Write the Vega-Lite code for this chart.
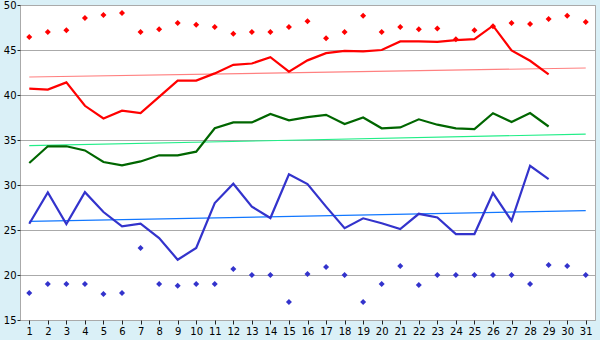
{
  "$schema": "https://vega.github.io/schema/vega-lite/v6.json",
  "width": 575,
  "height": 315,
  "autosize": {"type": "none"},
  "padding": {"left": 20, "top": 5, "right": 5, "bottom": 20},
  "background": "#daf0f7",
  "config": {
    "view": {"fill": "white", "stroke": "#aaaaaa", "strokeWidth": 1},
    "axis": {"labelFont": "DejaVu Sans", "labelFontSize": 10, "labelColor": "black", "tickColor": "#222222", "domainColor": "#aaaaaa", "title": null}
  },
  "datasets": {
    "lines": [
      {"day":1,"value":40.7,"series":"red"},{"day":2,"value":40.6,"series":"red"},{"day":3,"value":41.4,"series":"red"},{"day":4,"value":38.8,"series":"red"},{"day":5,"value":37.4,"series":"red"},{"day":6,"value":38.25,"series":"red"},{"day":7,"value":38.0,"series":"red"},{"day":8,"value":39.8,"series":"red"},{"day":9,"value":41.6,"series":"red"},{"day":10,"value":41.6,"series":"red"},{"day":11,"value":42.4,"series":"red"},{"day":12,"value":43.35,"series":"red"},{"day":13,"value":43.5,"series":"red"},{"day":14,"value":44.2,"series":"red"},{"day":15,"value":42.6,"series":"red"},{"day":16,"value":43.85,"series":"red"},{"day":17,"value":44.65,"series":"red"},{"day":18,"value":44.9,"series":"red"},{"day":19,"value":44.85,"series":"red"},{"day":20,"value":45.0,"series":"red"},{"day":21,"value":45.95,"series":"red"},{"day":22,"value":45.95,"series":"red"},{"day":23,"value":45.9,"series":"red"},{"day":24,"value":46.1,"series":"red"},{"day":25,"value":46.2,"series":"red"},{"day":26,"value":47.7,"series":"red"},{"day":27,"value":44.95,"series":"red"},{"day":28,"value":43.8,"series":"red"},{"day":29,"value":42.3,"series":"red"},
      {"day":1,"value":32.44,"series":"green"},{"day":2,"value":34.3,"series":"green"},{"day":3,"value":34.3,"series":"green"},{"day":4,"value":33.84,"series":"green"},{"day":5,"value":32.55,"series":"green"},{"day":6,"value":32.18,"series":"green"},{"day":7,"value":32.62,"series":"green"},{"day":8,"value":33.3,"series":"green"},{"day":9,"value":33.3,"series":"green"},{"day":10,"value":33.7,"series":"green"},{"day":11,"value":36.3,"series":"green"},{"day":12,"value":36.95,"series":"green"},{"day":13,"value":36.95,"series":"green"},{"day":14,"value":37.9,"series":"green"},{"day":15,"value":37.18,"series":"green"},{"day":16,"value":37.55,"series":"green"},{"day":17,"value":37.8,"series":"green"},{"day":18,"value":36.78,"series":"green"},{"day":19,"value":37.5,"series":"green"},{"day":20,"value":36.3,"series":"green"},{"day":21,"value":36.4,"series":"green"},{"day":22,"value":37.3,"series":"green"},{"day":23,"value":36.7,"series":"green"},{"day":24,"value":36.3,"series":"green"},{"day":25,"value":36.2,"series":"green"},{"day":26,"value":37.97,"series":"green"},{"day":27,"value":37.0,"series":"green"},{"day":28,"value":38.0,"series":"green"},{"day":29,"value":36.5,"series":"green"},
      {"day":1,"value":25.7,"series":"blue"},{"day":2,"value":29.18,"series":"blue"},{"day":3,"value":25.67,"series":"blue"},{"day":4,"value":29.2,"series":"blue"},{"day":5,"value":27.0,"series":"blue"},{"day":6,"value":25.4,"series":"blue"},{"day":7,"value":25.7,"series":"blue"},{"day":8,"value":24.1,"series":"blue"},{"day":9,"value":21.7,"series":"blue"},{"day":10,"value":23.0,"series":"blue"},{"day":11,"value":28.0,"series":"blue"},{"day":12,"value":30.14,"series":"blue"},{"day":13,"value":27.6,"series":"blue"},{"day":14,"value":26.33,"series":"blue"},{"day":15,"value":31.2,"series":"blue"},{"day":16,"value":30.1,"series":"blue"},{"day":17,"value":27.6,"series":"blue"},{"day":18,"value":25.2,"series":"blue"},{"day":19,"value":26.3,"series":"blue"},{"day":20,"value":25.75,"series":"blue"},{"day":21,"value":25.1,"series":"blue"},{"day":22,"value":26.8,"series":"blue"},{"day":23,"value":26.4,"series":"blue"},{"day":24,"value":24.55,"series":"blue"},{"day":25,"value":24.55,"series":"blue"},{"day":26,"value":29.1,"series":"blue"},{"day":27,"value":26.03,"series":"blue"},{"day":28,"value":32.14,"series":"blue"},{"day":29,"value":30.66,"series":"blue"}
    ],
    "trend": [
      {"day":1,"value":42.0,"series":"red trend"},{"day":31,"value":43.0,"series":"red trend"},
      {"day":1,"value":34.37,"series":"green trend"},{"day":31,"value":35.65,"series":"green trend"},
      {"day":1,"value":25.95,"series":"blue trend"},{"day":31,"value":27.15,"series":"blue trend"}
    ],
    "points": [
      {"day":1,"value":46.44,"series":"red points"},{"day":2,"value":47.0,"series":"red points"},{"day":3,"value":47.2,"series":"red points"},{"day":4,"value":48.55,"series":"red points"},{"day":5,"value":48.9,"series":"red points"},{"day":6,"value":49.1,"series":"red points"},{"day":7,"value":47.0,"series":"red points"},{"day":8,"value":47.3,"series":"red points"},{"day":9,"value":48.0,"series":"red points"},{"day":10,"value":47.8,"series":"red points"},{"day":11,"value":47.55,"series":"red points"},{"day":12,"value":46.8,"series":"red points"},{"day":13,"value":47.0,"series":"red points"},{"day":14,"value":47.0,"series":"red points"},{"day":15,"value":47.55,"series":"red points"},{"day":16,"value":48.2,"series":"red points"},{"day":17,"value":46.3,"series":"red points"},{"day":18,"value":47.0,"series":"red points"},{"day":19,"value":48.8,"series":"red points"},{"day":20,"value":47.0,"series":"red points"},{"day":21,"value":47.55,"series":"red points"},{"day":22,"value":47.3,"series":"red points"},{"day":23,"value":47.4,"series":"red points"},{"day":24,"value":46.2,"series":"red points"},{"day":25,"value":47.2,"series":"red points"},{"day":26,"value":47.65,"series":"red points"},{"day":27,"value":48.0,"series":"red points"},{"day":28,"value":47.9,"series":"red points"},{"day":29,"value":48.45,"series":"red points"},{"day":30,"value":48.8,"series":"red points"},{"day":31,"value":48.1,"series":"red points"},
      {"day":1,"value":18.0,"series":"blue points"},{"day":2,"value":19.0,"series":"blue points"},{"day":3,"value":19.0,"series":"blue points"},{"day":4,"value":19.0,"series":"blue points"},{"day":5,"value":17.9,"series":"blue points"},{"day":6,"value":18.0,"series":"blue points"},{"day":7,"value":23.0,"series":"blue points"},{"day":8,"value":19.0,"series":"blue points"},{"day":9,"value":18.8,"series":"blue points"},{"day":10,"value":19.0,"series":"blue points"},{"day":11,"value":19.0,"series":"blue points"},{"day":12,"value":20.67,"series":"blue points"},{"day":13,"value":20.0,"series":"blue points"},{"day":14,"value":20.0,"series":"blue points"},{"day":15,"value":17.0,"series":"blue points"},{"day":16,"value":20.1,"series":"blue points"},{"day":17,"value":20.9,"series":"blue points"},{"day":18,"value":20.0,"series":"blue points"},{"day":19,"value":17.0,"series":"blue points"},{"day":20,"value":19.0,"series":"blue points"},{"day":21,"value":21.0,"series":"blue points"},{"day":22,"value":18.9,"series":"blue points"},{"day":23,"value":20.0,"series":"blue points"},{"day":24,"value":20.0,"series":"blue points"},{"day":25,"value":20.0,"series":"blue points"},{"day":26,"value":20.0,"series":"blue points"},{"day":27,"value":20.0,"series":"blue points"},{"day":28,"value":19.0,"series":"blue points"},{"day":29,"value":21.1,"series":"blue points"},{"day":30,"value":21.0,"series":"blue points"},{"day":31,"value":20.0,"series":"blue points"}
    ]
  },
  "encoding": {
    "x": {
      "field": "day", "type": "quantitative",
      "scale": {"domain": [0.5, 31.5], "nice": false, "zero": false},
      "axis": {"values": [1,2,3,4,5,6,7,8,9,10,11,12,13,14,15,16,17,18,19,20,21,22,23,24,25,26,27,28,29,30,31], "grid": false, "tickSize": 4, "labelPadding": 2, "domain": false}
    },
    "y": {
      "field": "value", "type": "quantitative",
      "scale": {"domain": [15, 50], "nice": false, "zero": false},
      "axis": {"values": [15,20,25,30,35,40,45,50], "grid": true, "gridColor": "#aaaaaa", "gridOpacity": 1, "tickSize": 3, "labelPadding": 1, "domain": false}
    },
    "color": {
      "field": "series", "type": "nominal", "legend": null,
      "scale": {
        "domain": ["red","green","blue","red trend","green trend","blue trend","red points","blue points"],
        "range": ["#ff0000","#006600","#3333cc","#ff8080","#22ee88","#1177ff","#ff0000","#3333cc"]
      }
    }
  },
  "layer": [
    {"data": {"name": "trend"}, "mark": {"type": "line", "strokeWidth": 1.2, "interpolate": "linear"}},
    {"data": {"name": "lines"}, "mark": {"type": "line", "strokeWidth": 2.2}},
    {"data": {"name": "points"}, "mark": {"type": "point", "shape": "diamond", "filled": true, "size": 36, "opacity": 1}}
  ]
}
